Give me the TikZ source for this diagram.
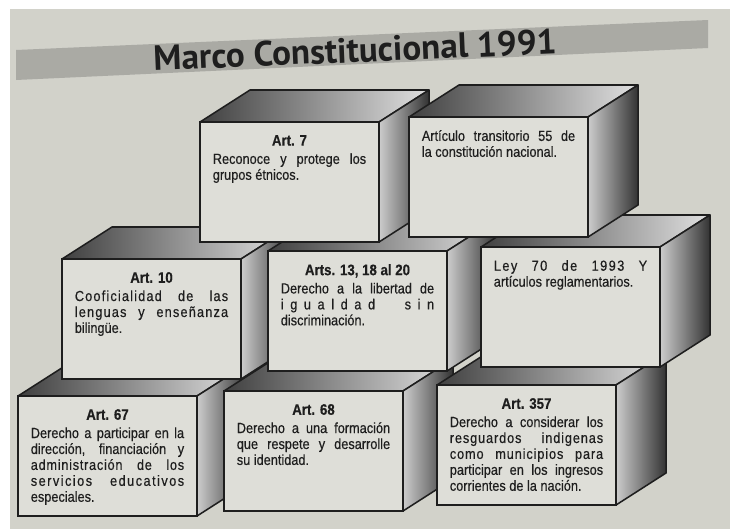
\documentclass[tikz,border=0pt]{standalone}
\usepackage{fontspec}
\setmainfont{Liberation Sans}
\newfontfamily\titlefont{PT Sans}
\newfontfamily\boxfont{Liberation Sans}[FakeStretch=0.87, FakeBold=0.4]
\usepackage{tikz}
\usetikzlibrary{positioning}
\usetikzlibrary{calc}

\definecolor{paper}{RGB}{210,210,202}
\definecolor{band}{RGB}{170,170,164}
\definecolor{face}{RGB}{222,222,216}
\definecolor{ink}{RGB}{30,30,30}

\newcommand{\arthead}[1]{{\noindent\centering\bfseries\fontsize{13}{14}\selectfont #1\par}\vspace{2pt}\noindent}

\begin{document}
\begin{tikzpicture}
    [
    x=0.03cm, y=-0.03cm,
    front/.style={draw=ink, line width=1.3pt, fill=face, rectangle, anchor=north west,
        minimum width=5.37cm, minimum height=3.6cm, outer sep=0pt},
    topface/.style={draw=ink, line width=1.3pt, line join=round, left color=black!75, right color=black!12},
    sideface/.style={draw=ink, line width=1.3pt, line join=round, left color=black!20, right color=black!80},
    txt/.style={text width=4.6cm, align=justify, inner sep=0pt, text=ink, font=\boxfont\fontsize{12.5}{13.6}\selectfont},
    titletext/.style={font=\titlefont\bfseries\fontsize{30}{32}\selectfont, text=ink, inner sep=0pt},
    ]
    \useasboundingbox (0,0) rectangle (730,529);
    \fill[white] (0,0) rectangle (730,529);
    \fill[paper] (10,9) rectangle (730,529);
    \fill[band] (16,50) -- (708,20) -- (708,48) -- (16,80) -- cycle;
    \node[titletext, rotate=2.4] (title) at (355,50) {Marco Constitucional 1991};

    \foreach \n/\x/\y in {a67/18/396, a68/224/391, a357/437/385, a10/62/259, a13/268/251, l70/481/247, a7/200/122, a55/409/117}
    {
        \node[front] (\n) at (\x,\y) {};
        \path[topface] (\n.north west) -- ++(50,-32) -- ($(\n.north east)+(50,-32)$) -- (\n.north east) -- cycle;
        \path[sideface] (\n.north east) -- ++(50,-32) -- ($(\n.south east)+(50,-32)$) -- (\n.south east) -- cycle;
    }

    \node[txt, below=11pt of a7.north] (a7t) {\arthead{Art. 7}Reconoce y protege los\linebreak grupos étnicos.};
    \node[txt, below=11pt of a55.north] (a55t) {\noindent Artículo transitorio 55 de\linebreak la constitución nacional.};
    \node[txt, below=11pt of a10.north] (a10t) {\arthead{Art. 10}{\addfontfeature{LetterSpace=8}Cooficialidad de las}\linebreak {\addfontfeature{LetterSpace=8}lenguas y enseñanza}\linebreak bilingüe.};
    \node[txt, below=11pt of a13.north] (a13t) {\arthead{Arts. 13, 18 al 20}Derecho a la libertad de\linebreak {\addfontfeature{LetterSpace=45}igualdad sin}\linebreak discriminación.};
    \node[txt, below=11pt of l70.north] (l70t) {\noindent{\addfontfeature{LetterSpace=10}Ley 70 de 1993 Y}\linebreak artículos reglamentarios.};
    \node[txt, below=11pt of a67.north] (a67t) {\arthead{Art. 67}Derecho a participar en la\linebreak dirección, financiación y\linebreak {\addfontfeature{LetterSpace=5}administración de los}\linebreak {\addfontfeature{LetterSpace=10}servicios educativos}\linebreak especiales.};
    \node[txt, below=11pt of a68.north] (a68t) {\arthead{Art. 68}Derecho a una formación\linebreak que respete y desarrolle\linebreak su identidad.};
    \node[txt, below=11pt of a357.north] (a357t) {\arthead{Art. 357}Derecho a considerar los\linebreak {\addfontfeature{LetterSpace=6}resguardos indigenas}\linebreak {\addfontfeature{LetterSpace=6}como municipios para}\linebreak participar en los ingresos\linebreak corrientes de la nación.};
\end{tikzpicture}
\end{document}
